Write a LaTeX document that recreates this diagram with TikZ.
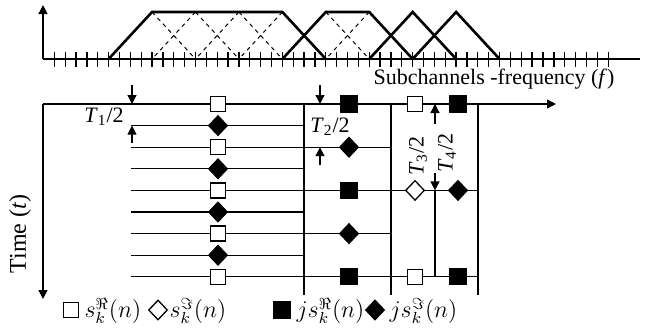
\documentclass[tikz,border=0pt]{standalone}
\usepackage{fontspec}
\setmainfont{Liberation Serif}
\usetikzlibrary{arrows.meta,shapes.geometric}
\newcommand{\thalf}[1]{\textit{T}\textsubscript{#1}/2}
\def\fx#1{{54.3+10.86*(#1)}}
\def\ry#1{{104+21.6*(#1)}}
\begin{document}
\begin{tikzpicture}[x=0.5pt,y=-0.5pt,line width=0.65pt,
  font=\fontsize{11}{13}\selectfont,
  tip/.style={-{Triangle[length=4.5pt,width=4.5pt]}},
  env/.style={line width=1.3pt},
  sub/.style={line width=0.5pt,dash pattern=on 2pt off 2pt},
  osq/.style={rectangle,draw,fill=white,minimum size=7.5pt,inner sep=0pt},
  fsq/.style={rectangle,draw,fill=black,minimum size=8pt,inner sep=0pt},
  odm/.style={diamond,draw,fill=white,minimum width=9.5pt,minimum height=10pt,inner sep=0pt},
  fdm/.style={diamond,draw,fill=black,minimum width=9.5pt,minimum height=10pt,inner sep=0pt},
  lgd/.style={anchor=west,inner sep=0pt,font=\fontsize{11.5}{14}\selectfont}]
\useasboundingbox (0,0) rectangle (648,333);

% spectrum of the subchannels
\draw[tip] (43,59) -- (43,5);
\draw (43,59) -- (640,59);
\foreach \i in {0,...,51} \draw (\fx{\i},52) -- (\fx{\i},67);
\draw[env] (\fx{5},59) -- (\fx{9},12) -- (\fx{21},12) -- (\fx{25},59);
\draw[env] (\fx{21},59) -- (\fx{25},12) -- (\fx{29},12) -- (\fx{33},59);
\draw[env] (\fx{29},59) -- (\fx{33},12) -- (\fx{37},59);
\draw[env] (\fx{33},59) -- (\fx{37},12) -- (\fx{41},59);
\foreach \p in {9,13,17} \draw[sub] (\fx{\p},12) -- (\fx{\p+4},59);
\foreach \p in {13,17,21} \draw[sub] (\fx{\p},12) -- (\fx{\p-4},59);
\draw[sub] (\fx{25},12) -- (\fx{29},59);
\draw[sub] (\fx{29},12) -- (\fx{25},59);
\node (freq) at (494,79) {Subchannels -frequency (\textit{f})};

% time-frequency grid
\draw[tip] (43,104) -- (556,104);
\draw[tip] (43,104) -- (43,299);
\node[rotate=90,font=\fontsize{12}{14}\selectfont] (time) at (20,234) {Time (\textit{t})};
\foreach \i/\xe in {1/304,2/391,3/304,4/478,5/304,6/391,7/304,8/478}
  \draw (131,\ry{\i}) -- (\xe,\ry{\i});
\foreach \x in {304,391,478} \draw (\x,104) -- (\x,295);
\draw (435,\ry{4}) -- (435,\ry{8});

% symbols
\foreach \i in {0,2,4,6,8} \node[osq] (a\i) at (218,\ry{\i}) {};
\foreach \i in {1,3,5,7} \node[fdm] (a\i) at (218,\ry{\i}) {};
\foreach \i in {0,4,8} \node[fsq] (b\i) at (349,\ry{\i}) {};
\foreach \i in {2,6} \node[fdm] (b\i) at (349,\ry{\i}) {};
\node[osq] (c0) at (415,\ry{0}) {};
\node[odm] (c4) at (415,\ry{4}) {};
\node[osq] (c8) at (415,\ry{8}) {};
\node[fsq] (d0) at (458,\ry{0}) {};
\node[fdm] (d4) at (458,\ry{4}) {};
\node[fsq] (d8) at (458,\ry{8}) {};

% half-period offsets
\draw[tip] (132,85) -- (132,\ry{0});
\draw[tip] (132,143) -- (132,\ry{1});
\node (t1) at (104,117) {\thalf{1}};
\draw[tip] (320,85) -- (320,\ry{0});
\draw[tip] (320,165) -- (320,\ry{2});
\node (t2) at (330,127) {\thalf{2}};
\draw[tip] (435,124) -- (435,\ry{0});
\draw[tip] (435,173) -- (435,\ry{4});
\node[rotate=90] (t3) at (418,156) {\thalf{3}};
\node[rotate=90] (t4) at (447,153) {\thalf{4}};

% legend
\node[osq] (l1) at (71,310) {};
\node[lgd] (lt1) at (84,311) {$s_k^{\Re}(n)$};
\node[odm] (l2) at (158,310) {};
\node[lgd] (lt2) at (169,311) {$s_k^{\Im}(n)$};
\node[fsq] (l3) at (282,310) {};
\node[lgd] (lt3) at (296,311) {$js_k^{\Re}(n)$};
\node[fdm] (l4) at (375,310) {};
\node[lgd] (lt4) at (389,311) {$js_k^{\Im}(n)$};
\end{tikzpicture}
\end{document}
